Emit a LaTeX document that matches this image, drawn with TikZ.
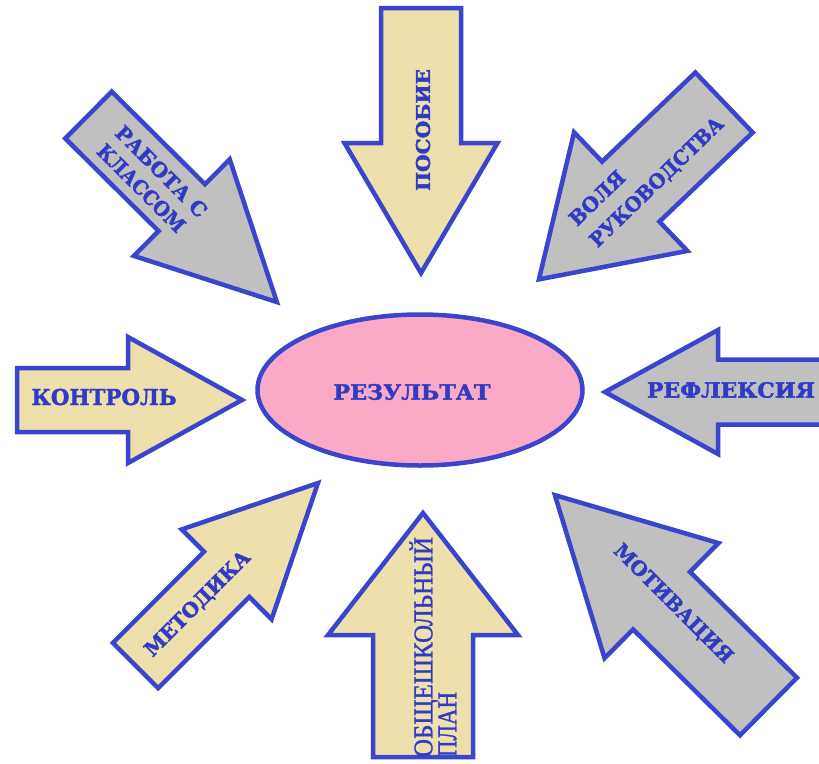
\documentclass[tikz,border=0pt]{standalone}
\usepackage{fontspec}
\usepackage{graphicx}
\setmainfont{DejaVu Serif}[BoldFeatures={FakeBold=1.8}]
\newfontfamily\timesfont{Liberation Serif}[FakeBold=1.2]
\usetikzlibrary{shapes.geometric}
\definecolor{lineblue}{RGB}{58,68,204}
\definecolor{textblue}{RGB}{48,58,196}
\definecolor{tanfill}{RGB}{238,224,172}
\definecolor{grayfill}{RGB}{192,192,192}
\definecolor{pinkfill}{RGB}{250,170,198}
\tikzset{
  arrowline/.style={draw=lineblue, line width=4.5pt, line join=miter},
  lbl/.style={text=textblue, inner sep=0pt, outer sep=0pt},
}
% #1 fill, #2 tail x, #3 tail y (image px), #4 angle, #5 length, #6 shaft half width, #7 head half width, #8 head length
\newcommand\bigarrow[8]{%
  \begin{scope}[shift={(#2,-#3)},rotate=#4]
    \draw[arrowline,fill=#1] (0,-#6) -- (#5-#8,-#6) -- (#5-#8,-#7) -- (#5,0)
      -- (#5-#8,#7) -- (#5-#8,#6) -- (0,#6) -- cycle;
  \end{scope}}
% #1 width, #2 font size, #3 text
\newcommand\fitlbl[3]{\resizebox{#1pt}{\height}{\fontsize{#2}{#2}\selectfont\bfseries #3}}
\newcommand\fittimes[3]{\resizebox{#1pt}{\height}{\fontsize{#2}{#2}\selectfont\timesfont #3}}
\begin{document}
\begin{tikzpicture}[x=1pt,y=1pt]
\useasboundingbox (0,0) rectangle (819,-763);
\clip (0,0) rectangle (819,-763);
% arrows
\bigarrow{tanfill}{421}{8}{-90}{265}{40}{76.5}{130}
\bigarrow{tanfill}{423}{757}{90}{244}{50}{95}{122}
\bigarrow{tanfill}{17}{400}{0}{225}{32}{63}{114}
\bigarrow{grayfill}{835}{392}{180}{230}{32.5}{62}{113}
\bigarrow{grayfill}{88.5}{115}{-44.8}{265.5}{33}{68}{134}
\bigarrow{grayfill}{724}{102.5}{223.7}{256}{41.5}{82}{127}
\bigarrow{tanfill}{135.5}{665.5}{45}{258}{32}{63.5}{129}
\bigarrow{grayfill}{768.5}{706.5}{135.3}{300.5}{40.5}{81}{150}
% centre
\node[ellipse, draw=lineblue, line width=4.5pt, fill=pinkfill,
      minimum width=325, minimum height=151, inner sep=0pt] (res) at (420,-390) {};
\node[lbl] (reslbl) at (412,-392) {\fitlbl{157}{21}{РЕЗУЛЬТАТ}};
% labels
\node[lbl, rotate=90] (posobie) at (423,-130) {\fitlbl{122}{19}{ПОСОБИЕ}};
\node[lbl, rotate=90, align=left, font=\fontsize{27}{24}\selectfont] (obsh) at (433,-647)
  {\fittimes{220}{27}{ОБЩЕШКОЛЬНЫЙ}\\\fittimes{65}{27}{ПЛАН}};
\node[lbl] (kontrol) at (104,-397) {\fitlbl{145}{22}{КОНТРОЛЬ}};
\node[lbl] (refl) at (731,-390) {\fitlbl{168}{21}{РЕФЛЕКСИЯ}};
\node[lbl, rotate=-45, align=left, font=\fontsize{20}{26}\selectfont] (rab) at (152.3,-180.7)
  {\fitlbl{120}{20}{РАБОТА С}\\\fitlbl{115}{20}{КЛАССОМ}};
\node[lbl, rotate=44, align=left, font=\fontsize{20}{29.5}\selectfont] (vol) at (647,-172)
  {\fitlbl{69}{20}{ВОЛЯ}\\\fitlbl{177}{20}{РУКОВОДСТВА}};
\node[lbl, rotate=45] (metod) at (198,-604) {\fitlbl{140}{20}{МЕТОДИКА}};
\node[lbl, rotate=-45] (motiv) at (673,-604) {\fitlbl{159}{20}{МОТИВАЦИЯ}};
\end{tikzpicture}
\end{document}
